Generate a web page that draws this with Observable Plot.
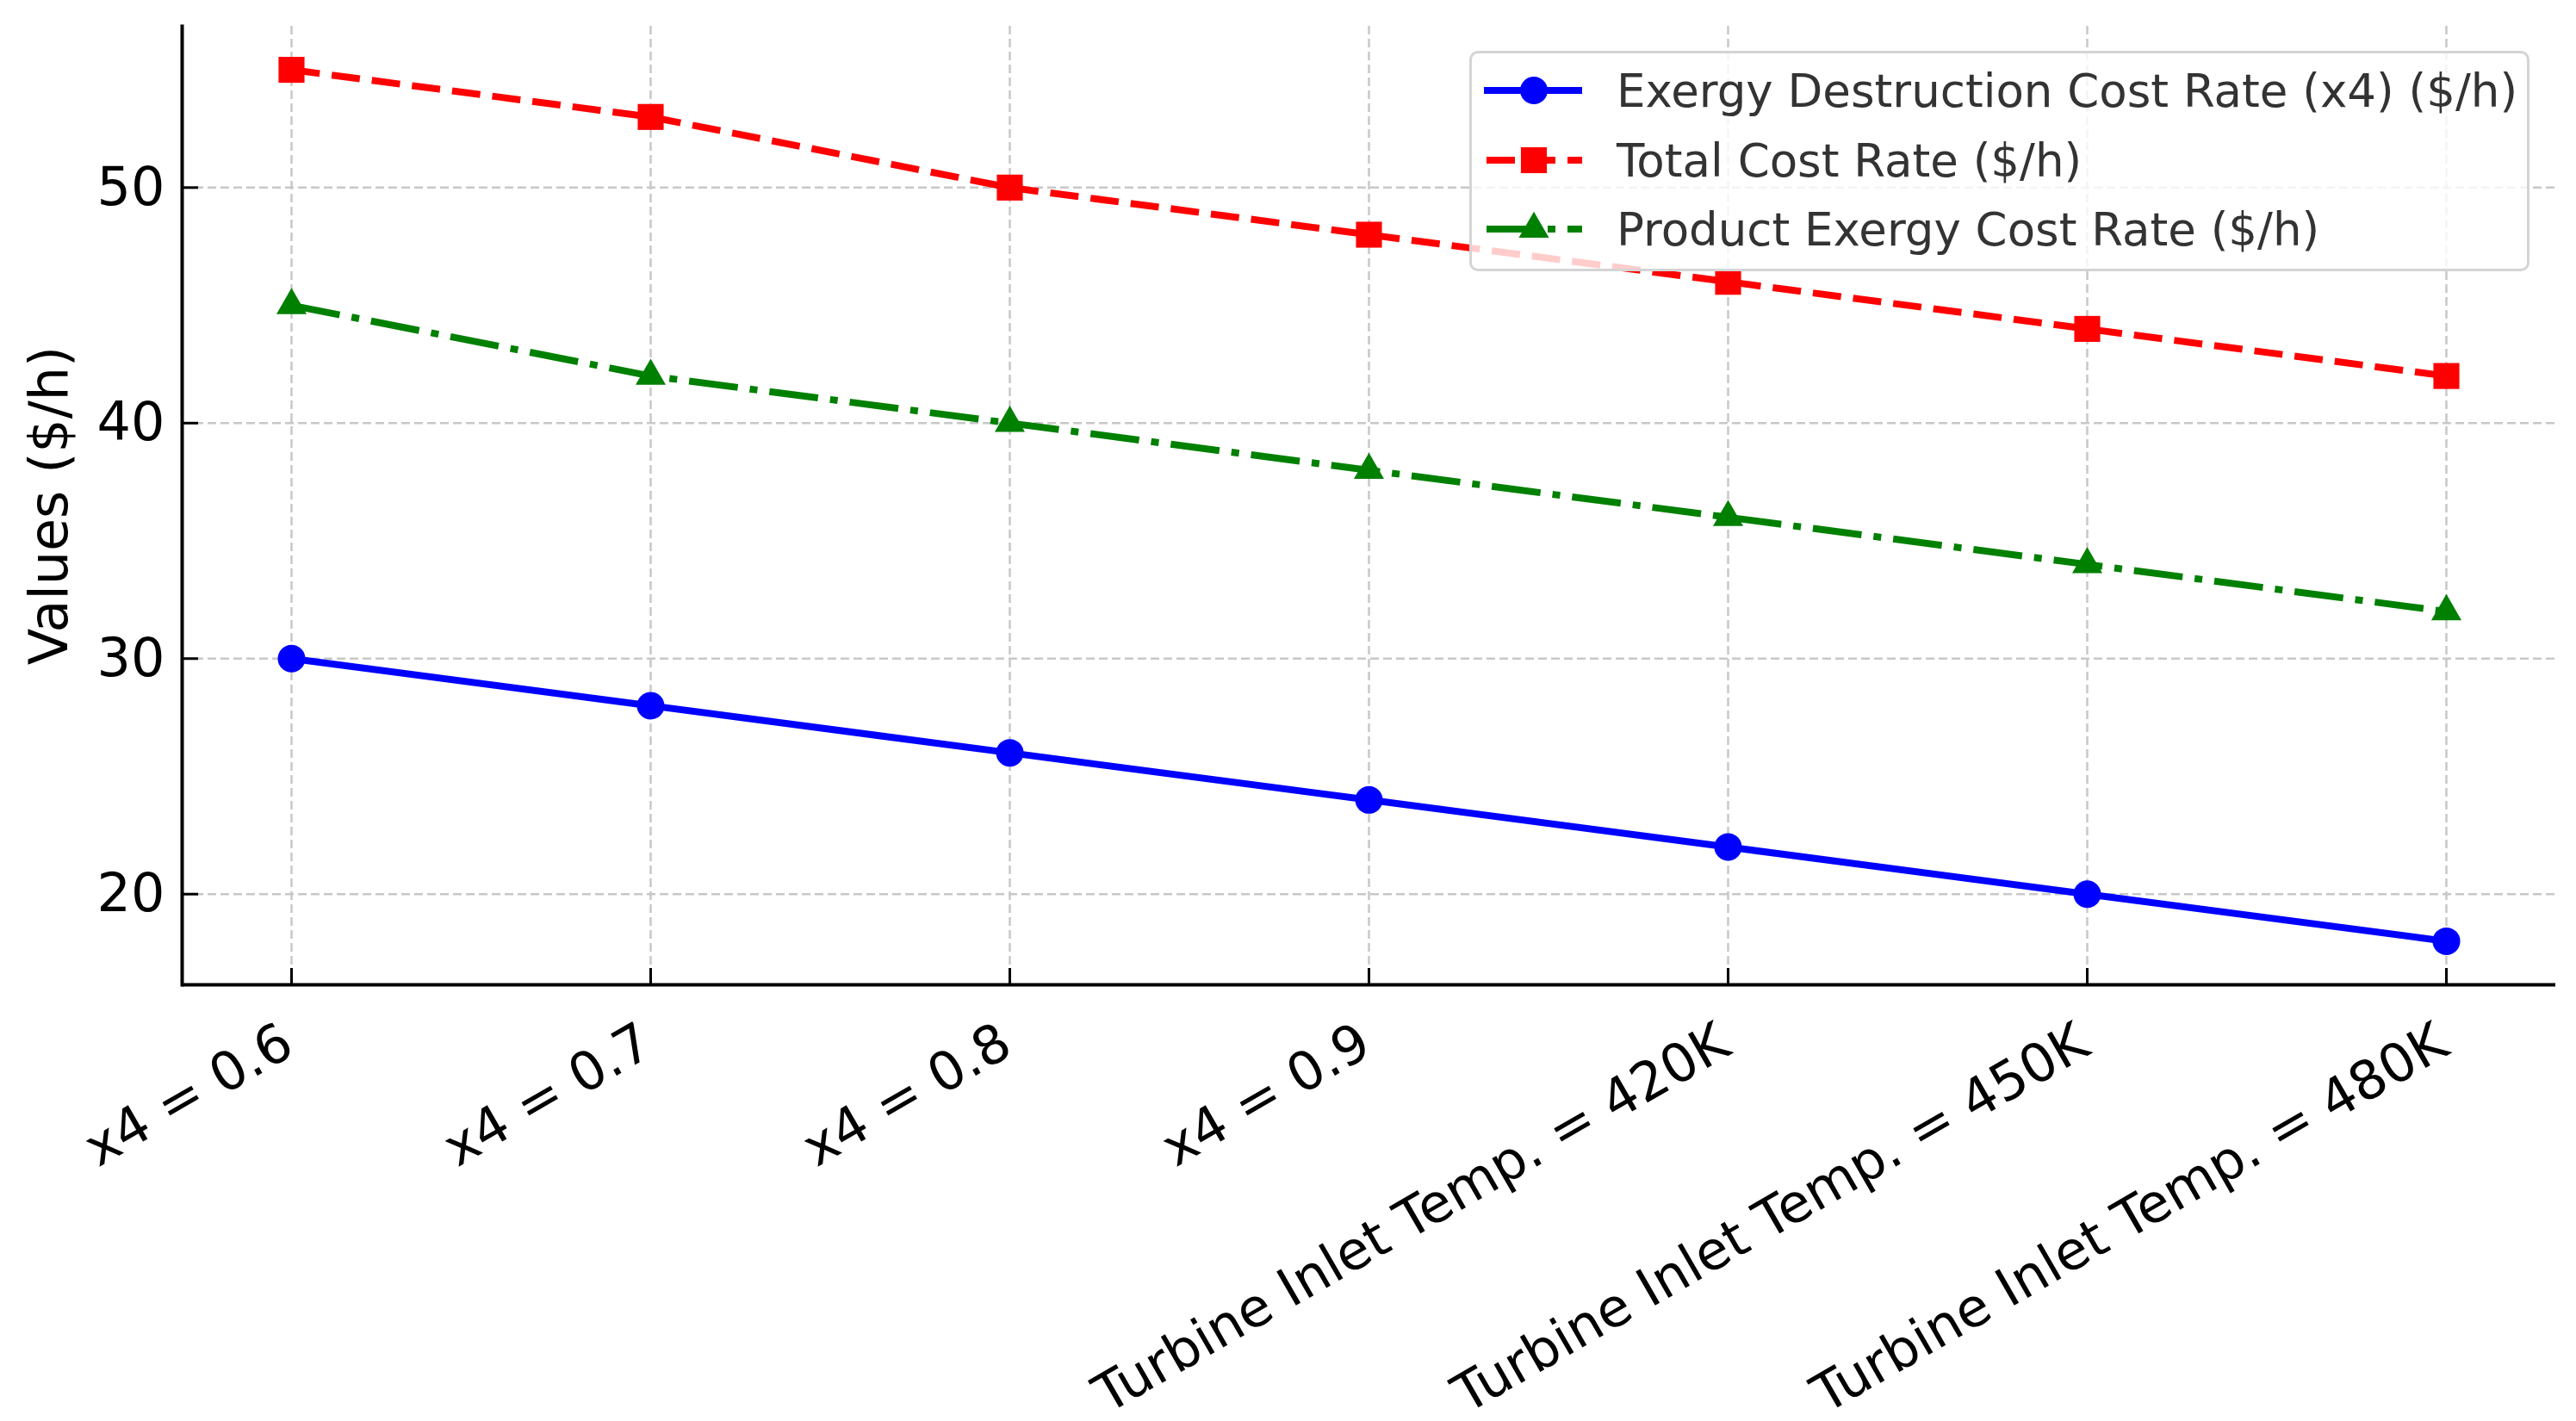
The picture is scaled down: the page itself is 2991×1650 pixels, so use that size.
<!DOCTYPE html>
<html>
<head>
<meta charset="utf-8">
<script src="https://cdn.jsdelivr.net/npm/d3@7"></script>
<script src="https://cdn.jsdelivr.net/npm/@observablehq/plot@0.6"></script>
<style>
  body { margin: 0; background: #fff; }
  #wrap { position: relative; width: 2991px; height: 1650px; font-family: "DejaVu Sans", sans-serif; }
  #legend { position: absolute; left: 1706px; top: 59px; width: 1231px; height: 256px; box-sizing: border-box;
            border: 3px solid #d4d4d4; border-radius: 10px; background: rgba(255,255,255,0.8); }
  .row { position: absolute; left: 14px; height: 60px; display: flex; align-items: center; }
  .row span { margin-left: 40px; font-size: 53px; color: #333; white-space: nowrap; }
</style>
</head>
<body>
<div id="wrap"><div id="chart"></div><div id="legend"></div></div>
<script>
const categories = ["x4 = 0.6", "x4 = 0.7", "x4 = 0.8", "x4 = 0.9",
  "Turbine Inlet Temp. = 420K", "Turbine Inlet Temp. = 450K", "Turbine Inlet Temp. = 480K"];
const exergyDestruction = [30, 28, 26, 24, 22, 20, 18];
const totalCost = [55, 53, 50, 48, 46, 44, 42];
const productExergy = [45, 42, 40, 38, 36, 34, 32];
const yTicks = [20, 30, 40, 50];

const series = [
  {name: "Exergy Destruction Cost Rate (x4) ($/h)", values: exergyDestruction, color: "#0000ff", dash: null, symbol: "circle", r: 16},
  {name: "Total Cost Rate ($/h)", values: totalCost, color: "#ff0000", dash: "33,14", symbol: "square", r: 17},
  {name: "Product Exergy Cost Rate ($/h)", values: productExergy, color: "#008000", dash: "57,14,9,14", symbol: "triangle", r: 13}
];

const table = series.flatMap(s => categories.map((c, i) => ({cat: c, value: s.values[i], name: s.name})));

const W = 2991, H = 1650;
const mL = 211, mR = 24, mT = 30, mB = 507;
const fw = W - mL - mR, fh = H - mT - mB;
const yDomain = [16.15, 56.85];
const grid = {stroke: "#c8c8c8", strokeWidth: 2.5, strokeDasharray: "10,5"};

const marks = [
  Plot.ruleY(yTicks, grid),
  Plot.ruleX(categories, grid),
  // inward ticks
  Plot.ruleY(yTicks, {insetRight: fw - 19, stroke: "#000", strokeWidth: 3}),
  Plot.ruleX(categories, {insetTop: fh - 19, stroke: "#000", strokeWidth: 3}),
  Plot.ruleY([yDomain[0]], {stroke: "#000", strokeWidth: 4}),
  Plot.frame({anchor: "left", stroke: "#000", strokeWidth: 4}),
  Plot.axisY(yTicks, {tickSize: 0, tickPadding: 20, fontSize: 62, label: null}),
  Plot.text(categories, {x: d => d, frameAnchor: "bottom", dy: 41, dx: -16, rotate: -30,
    textAnchor: "end", lineAnchor: "top", fontSize: 62, fill: "#000"}),
  Plot.text(["Values ($/h)"], {frameAnchor: "left", rotate: -90, dx: -134, textAnchor: "middle",
    lineAnchor: "bottom", fontSize: 62, fill: "#000"})
];
for (const s of series) {
  const rows = table.filter(d => d.name === s.name);
  marks.push(Plot.line(rows, {x: "cat", y: "value", stroke: s.color, strokeWidth: 8,
    strokeDasharray: s.dash, strokeLinecap: s.dash ? "butt" : "square", strokeLinejoin: "round"}));
  marks.push(Plot.dot(rows, {x: "cat", y: "value", symbol: () => s.symbol, r: s.r, fill: s.color, stroke: "none"}));
}

const chart = Plot.plot({
  width: W, height: H,
  marginLeft: mL, marginRight: mR, marginTop: mT, marginBottom: mB,
  x: {type: "point", domain: categories, padding: 0.3, axis: null},
  y: {domain: yDomain, axis: null},
  symbol: {type: "identity"},
  style: {fontFamily: "DejaVu Sans", fontSize: "62px", color: "#000", background: "white", overflow: "visible"},
  marks
});
d3.select("#chart").append(() => chart);

// legend box in the upper right, like matplotlib's
const legend = d3.select("#legend");
const rowMid = [43, 124, 204];
series.forEach((s, i) => {
  const row = legend.append("div").attr("class", "row").style("top", (rowMid[i] - 30) + "px");
  const svg = row.append("svg").attr("width", 114).attr("height", 60);
  svg.append("line").attr("x1", 3).attr("x2", 114).attr("y1", 30).attr("y2", 30)
    .attr("stroke", s.color).attr("stroke-width", 8)
    .attr("stroke-dasharray", s.dash).attr("stroke-linecap", s.dash ? "butt" : "square");
  const sym = {circle: d3.symbolCircle, square: d3.symbolSquare, triangle: d3.symbolTriangle}[s.symbol];
  svg.append("path").attr("transform", "translate(58,30)")
    .attr("d", d3.symbol(sym, Math.PI * s.r * s.r)()).attr("fill", s.color);
  row.append("span").text(s.name);
});
</script>
</body>
</html>
